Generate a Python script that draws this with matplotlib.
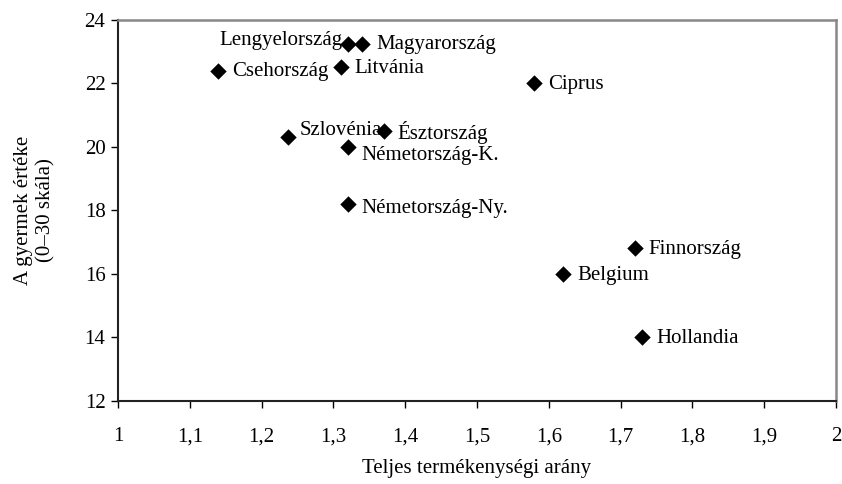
import matplotlib.pyplot as plt

plt.rcParams['font.family'] = ['Liberation Serif', 'DejaVu Serif']

# adatok (leolvasva)
orszagok = ['Csehország', 'Lengyelország', 'Magyarország', 'Litvánia', 'Ciprus',
            'Szlovénia', 'Észtország', 'Németország-K.', 'Németország-Ny.',
            'Finnország', 'Belgium', 'Hollandia']
termekenyseg = [1.14, 1.32, 1.34, 1.31, 1.58, 1.237, 1.37, 1.32, 1.32, 1.72, 1.62, 1.73]
gyermek_erteke = [22.4, 23.25, 23.25, 22.5, 22.0, 20.3, 20.5, 20.0, 18.2, 16.8, 16.0, 14.0]

# cimke eltolas (pont) es igazitas
eltolas = {
    'Lengyelország': (-4, 2, 'right'),
    'Szlovénia': (8, 5, 'left'),
    'Németország-K.': (10, -6, 'left'),
    'Németország-Ny.': (10, -3, 'left'),
}

fig = plt.figure(figsize=(8.42, 4.84), dpi=100)
ax = fig.add_axes([0.1401, 0.1715, 0.8528, 0.7878])

for nev, x, y in zip(orszagok, termekenyseg, gyermek_erteke):
    dx, dy, ha = eltolas.get(nev, (10, -1, 'left'))
    ax.annotate(nev, (x, y), xytext=(dx, dy), textcoords='offset points',
                ha=ha, va='center', fontsize=15, zorder=2)

ax.scatter(termekenyseg, gyermek_erteke, marker='D', s=70, color='black',
           linewidths=0, zorder=3)

ax.set_xlim(1, 2)
ax.set_ylim(12, 24)
ax.set_xticks([1 + i / 10 for i in range(11)])
ax.set_xticklabels(['1', '1,1', '1,2', '1,3', '1,4', '1,5', '1,6', '1,7', '1,8', '1,9', '2'])
ax.set_yticks(range(12, 25, 2))

ax.tick_params(direction='out', length=5, width=1, labelsize=15, color='black', pad=4)
ax.tick_params(axis='x', pad=14)

for s in ['left', 'bottom']:
    ax.spines[s].set_color('#222222')
    ax.spines[s].set_linewidth(1.5)
for s in ['top', 'right']:
    ax.spines[s].set_color('#888888')
    ax.spines[s].set_linewidth(1.8)

ax.set_xlabel('Teljes termékenységi arány', fontsize=15, labelpad=9)
ax.set_ylabel('A gyermek értéke\n(0–30 skála)', fontsize=15, labelpad=21, linespacing=1.2)

fig.savefig('out.png', dpi=100)
